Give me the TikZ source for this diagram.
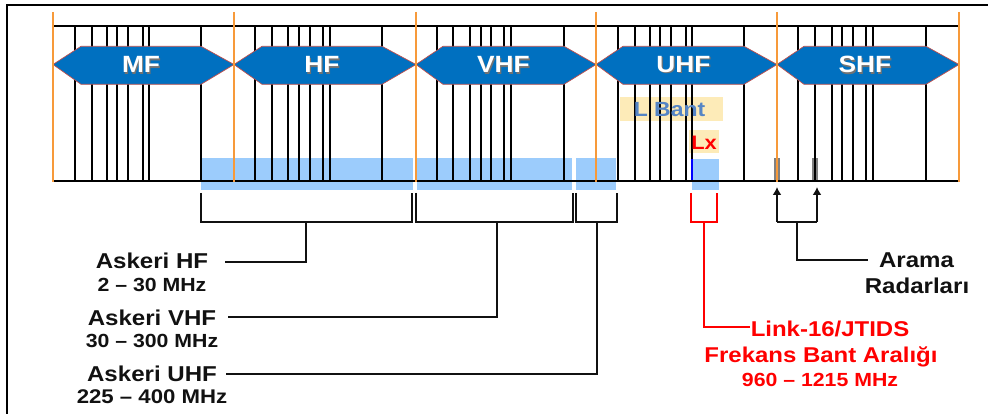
\documentclass[tikz,border=0pt]{standalone}
\usepackage{fontspec}
\setmainfont{Liberation Sans}
\newfontfamily\labfont[FakeStretch=1.12]{Liberation Sans}
\usetikzlibrary{arrows.meta}
\definecolor{hexblue}{HTML}{0070C0}
\definecolor{hexedge}{HTML}{C0504D}
\definecolor{bandorange}{HTML}{F79A3A}
\definecolor{barblue}{HTML}{9CCCFC}
\definecolor{lbandyellow}{HTML}{FDEBB8}
\definecolor{lbandtext}{HTML}{5585C5}
\definecolor{txtblack}{HTML}{111111}
\tikzset{
  tickline/.style={line width=2pt, black},
  axisline/.style={line width=2.2pt, black},
  orangeline/.style={line width=2.8pt, bandorange},
  hexshape/.style={fill=hexblue, draw=hexedge, line width=0.7pt},
  hextext/.style={font=\labfont\bfseries\fontsize{23.5}{26}\selectfont, text=white, inner sep=0pt},
  hexshadow/.style={font=\labfont\bfseries\fontsize{23.5}{26}\selectfont, text=black!55, inner sep=0pt},
  brline/.style={line width=2pt, txtblack},
  redline/.style={line width=2pt, red},
  radarrow/.style={line width=2pt, txtblack, -{Latex[length=8pt,width=9pt]}},
  mainlab/.style={font=\labfont\bfseries\fontsize{21.5}{24}\selectfont, text=txtblack, anchor=base, inner sep=0pt},
  sublab/.style={font=\labfont\bfseries\fontsize{19}{22}\selectfont, text=txtblack, anchor=base, inner sep=0pt},
  redmain/.style={font=\labfont\bfseries\fontsize{21.4}{24}\selectfont, text=red, anchor=base, inner sep=0pt},
  redsub/.style={font=\labfont\bfseries\fontsize{19}{22}\selectfont, text=red, anchor=base, inner sep=0pt},
}
\begin{document}
\begin{tikzpicture}[x=1pt,y=-1pt]
\useasboundingbox (0,0) rectangle (988,414);
% frame (right and bottom edges lie outside the picture)
\draw[line width=2.2pt, black] (7,430) -- (7,5) -- (995,5);

% light blue military bars
\fill[barblue] (201,158) rectangle (413,190);
\fill[barblue] (416.5,158) rectangle (572,190);
\fill[barblue] (576,158) rectangle (616,190);
\fill[barblue] (692,159) rectangle (718.5,190);

% L band boxes
\fill[lbandyellow] (620,97) rectangle (723,121);
\fill[lbandyellow] (689,130) rectangle (718.5,153);

% radar marks
\fill[black!50] (774,158) rectangle (780,181);
\fill[black!50] (812,158) rectangle (818,181);

% vertical tick lines
\foreach \x in {75,92,107,117,128,143,149,201,
                255,272,288,299,310,323,330,382,
                437,453,470,481,491,504,511,564,
                618,635,650,660,671,686,692,744,
                798,815,832,842,853,866,873,926}
  \draw[tickline] (\x,26) -- (\x,181);
\draw[line width=2.6pt, blue] (692,159) -- (692,181);

% top and base lines
\draw[axisline] (53,26) -- (959,26);
\draw[axisline] (53,181) -- (960,181);

% hexagon band labels
\foreach \a/\b/\c/\d/\t in {53/81/201/234/MF, 234/262/382/416/HF, 416/443/564/596/VHF, 596/623/744/777/UHF, 777/804/926/959/SHF}{
  \draw[hexshape] (\a,64.5) -- (\b,46.3) -- (\c,46.3) -- (\d,64.5) -- (\c,84.3) -- (\b,84.3) -- cycle;
  \node[hexshadow] at ({(\b+\c)/2+1.2},66) {\t};
  \node[hextext] (hex\t) at ({(\b+\c)/2},64.8) {\t};
}

% orange decade lines
\foreach \x in {53,234,416,596,777,959}
  \draw[orangeline] (\x,12) -- (\x,182);

% L band texts
\node[font=\labfont\bfseries\fontsize{20.5}{24}\selectfont, text=lbandtext, inner sep=0pt] (lbant) at (669.5,110) {L Bant};
\node[font=\labfont\bfseries\fontsize{19.5}{24}\selectfont, text=red, inner sep=0pt] (lx) at (704,142.5) {Lx};

% ---- labels ----
\node[mainlab] (hfLab) at (152,268.3) {Askeri HF};
\node[sublab] (hfSub) at (152,291) {2 – 30 MHz};
\node[mainlab] (vhfLab) at (152,325.5) {Askeri VHF};
\node[sublab] (vhfSub) at (152,347.7) {30 – 300 MHz};
\node[mainlab] (uhfLab) at (152,381.5) {Askeri UHF};
\node[sublab, font=\labfont\bfseries\fontsize{19.8}{22}\selectfont] (uhfSub) at (152,403.3) {225 – 400 MHz};

\node[redmain] (linkLab) at (830,336.7) {Link-16/JTIDS};
\node[redmain] (linkSub) at (821,362.7) {Frekans Bant Aralığı};
\node[redsub] (linkRange) at (820,386) {960 – 1215 MHz};

\node[mainlab] (radLab) at (916.5,267.3) {Arama};
\node[mainlab] (radSub) at (917,293) {Radarları};

% ---- brackets ----
% HF
\coordinate (hfA) at (201,193);
\coordinate (hfB) at (201,222);
\coordinate (hfC) at (412,222);
\coordinate (hfD) at (412,193);
\coordinate (hfM) at (306,222);
\coordinate (hfE) at (225,262);
\draw[brline] (hfA) -- (hfB) -- (hfC) -- (hfD);
\draw[brline] (hfM) |- (hfE);
% VHF
\coordinate (vhfA) at (416,193);
\coordinate (vhfB) at (416,222);
\coordinate (vhfC) at (573,222);
\coordinate (vhfD) at (573,193);
\coordinate (vhfM) at (497.3,222);
\coordinate (vhfE) at (228,317);
\draw[brline] (vhfA) -- (vhfB) -- (vhfC) -- (vhfD);
\draw[brline] (vhfM) |- (vhfE);
% UHF
\coordinate (uhfA) at (576,193);
\coordinate (uhfB) at (576,222);
\coordinate (uhfC) at (617,222);
\coordinate (uhfD) at (617,193);
\coordinate (uhfM) at (597,222);
\coordinate (uhfE) at (226,373.5);
\draw[brline] (uhfA) -- (uhfB) -- (uhfC) -- (uhfD);
\draw[brline] (uhfM) |- (uhfE);
% Link-16
\coordinate (lkA) at (691,193);
\coordinate (lkB) at (691,222);
\coordinate (lkC) at (717.3,222);
\coordinate (lkD) at (717.3,193);
\coordinate (lkM) at (704.3,222);
\coordinate (lkE) at (750,327);
\draw[redline] (lkA) -- (lkB) -- (lkC) -- (lkD);
\draw[redline] (lkM) |- (lkE);
% radars
\coordinate (rdA) at (777,222);
\coordinate (rdAt) at (777,187);
\coordinate (rdB) at (817,222);
\coordinate (rdBt) at (817,187);
\coordinate (rdM) at (797,222);
\coordinate (rdE) at (868,260);
\draw[radarrow] (rdA) -- (rdAt);
\draw[radarrow] (rdB) -- (rdBt);
\draw[brline] (rdA) -- (rdB);
\draw[brline] (rdM) |- (rdE);
\end{tikzpicture}
\end{document}
